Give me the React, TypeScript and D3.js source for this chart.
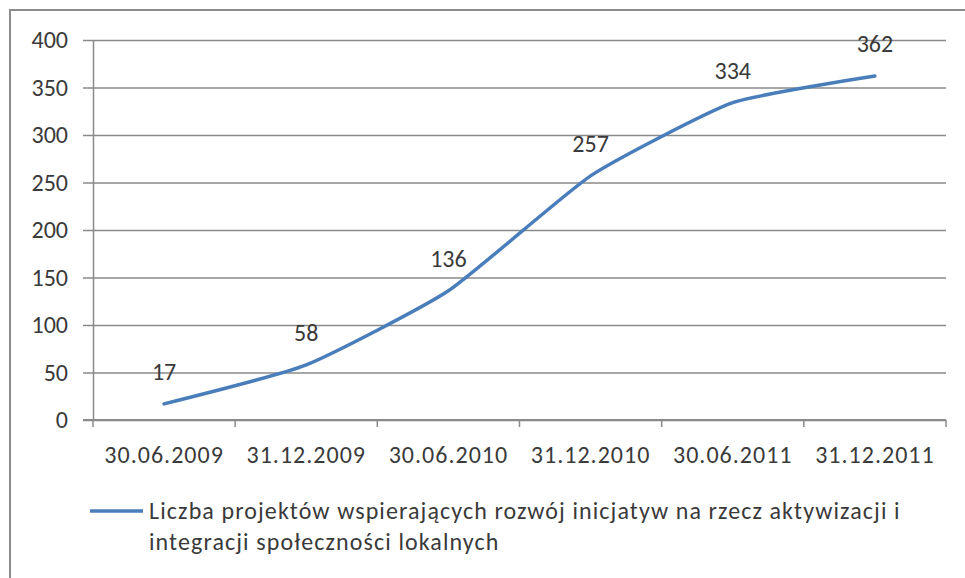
import React, { useEffect, useRef } from "react";
import * as d3 from "d3";

// data
const categories: string[] = [
  "30.06.2009",
  "31.12.2009",
  "30.06.2010",
  "31.12.2010",
  "30.06.2011",
  "31.12.2011",
];
const projectCounts: number[] = [17, 58, 136, 257, 334, 362];
const yTicks: number[] = [0, 50, 100, 150, 200, 250, 300, 350, 400];
const legendLines: string[] = [
  "Liczba projektów wspierających rozwój inicjatyw na rzecz aktywizacji i",
  "integracji społeczności lokalnych",
];

const WIDTH = 965;
const HEIGHT = 578;
const FONT = "Carlito, Calibri, Lato, 'Open Sans', sans-serif";
const FONT_SIZE = 24;
const TEXT = "#3a3a3a";
const GRID = "#8a8a8a";
const LINE = "#4a7ebb";

export default function App() {
  const ref = useRef<SVGSVGElement | null>(null);

  useEffect(() => {
    const svg = d3.select(ref.current);
    svg.selectAll("*").remove();

    const margin = { top: 40, right: 19, bottom: 158, left: 93 };

    // ==========================
    // Scales
    // ==========================
    const x = d3
      .scaleBand<string>()
      .domain(categories)
      .range([margin.left, WIDTH - margin.right])
      .padding(0);

    const y = d3
      .scaleLinear()
      .domain([0, 400])
      .range([HEIGHT - margin.bottom, margin.top]);

    // frame around the chart (cut at right/bottom in the reference)
    svg
      .append("rect")
      .attr("x", 10)
      .attr("y", 10)
      .attr("width", WIDTH + 20)
      .attr("height", HEIGHT + 20)
      .attr("fill", "#fff")
      .attr("stroke", "#8c8c8c")
      .attr("stroke-width", 2);

    // ==========================
    // Y axis + gridlines
    // ==========================
    const yAxis = svg
      .append("g")
      .attr("transform", `translate(${margin.left},0)`)
      .call(
        d3
          .axisLeft(y)
          .tickValues(yTicks)
          .tickSize(-(WIDTH - margin.right - margin.left))
          .tickSizeOuter(0)
          .tickPadding(25)
      );
    yAxis.select(".domain").attr("stroke", GRID).attr("stroke-width", 1.5);
    yAxis
      .selectAll(".tick line")
      .attr("x1", -10)
      .attr("stroke", GRID)
      .attr("stroke-width", 1.5);
    yAxis
      .selectAll(".tick text")
      .attr("fill", TEXT)
      .attr("font-family", FONT)
      .attr("font-size", FONT_SIZE);

    // ==========================
    // X axis
    // ==========================
    const xAxisG = svg
      .append("g")
      .attr("transform", `translate(0,${y(0)})`);
    xAxisG
      .append("line")
      .attr("x1", margin.left - 10)
      .attr("x2", WIDTH - margin.right)
      .attr("stroke", GRID)
      .attr("stroke-width", 2);
    const boundaries = categories.map((c) => (x(c) as number) + x.bandwidth());
    xAxisG
      .selectAll(".xtick")
      .data([margin.left, ...boundaries])
      .enter()
      .append("line")
      .attr("x1", (d) => d)
      .attr("x2", (d) => d)
      .attr("y1", 0)
      .attr("y2", 7)
      .attr("stroke", GRID)
      .attr("stroke-width", 1.5);
    xAxisG
      .selectAll(".xlabel")
      .data(categories)
      .enter()
      .append("text")
      .attr("x", (d) => (x(d) as number) + x.bandwidth() / 2)
      .attr("y", 43)
      .attr("text-anchor", "middle")
      .attr("fill", TEXT)
      .attr("font-family", FONT)
      .attr("font-size", FONT_SIZE)
      .attr("letter-spacing", 1)
      .text((d) => d);

    // ==========================
    // Line
    // ==========================
    const points = categories.map((c, i) => ({
      cx: (x(c) as number) + x.bandwidth() / 2,
      v: projectCounts[i],
    }));

    const line = d3
      .line<{ cx: number; v: number }>()
      .x((d) => d.cx)
      .y((d) => y(d.v))
      .curve(d3.curveCardinal.tension(0.5));

    svg
      .append("path")
      .datum(points)
      .attr("d", line)
      .attr("fill", "none")
      .attr("stroke", LINE)
      .attr("stroke-width", 3.5)
      .attr("stroke-linecap", "round");

    // data labels
    svg
      .selectAll(".label")
      .data(points)
      .enter()
      .append("text")
      .attr("x", (d) => d.cx)
      .attr("y", (d) => y(d.v) - 24)
      .attr("text-anchor", "middle")
      .attr("fill", TEXT)
      .attr("font-family", FONT)
      .attr("font-size", FONT_SIZE)
      .text((d) => d.v);

    // ==========================
    // Legend
    // ==========================
    const legend = svg.append("g").attr("transform", "translate(90,511)");
    legend
      .append("line")
      .attr("x1", 0)
      .attr("x2", 53)
      .attr("stroke", LINE)
      .attr("stroke-width", 3.5);
    legend
      .selectAll("text")
      .data(legendLines)
      .enter()
      .append("text")
      .attr("x", 59)
      .attr("y", (d, i) => 8 + i * 31)
      .attr("fill", TEXT)
      .attr("font-family", FONT)
      .attr("font-size", FONT_SIZE)
      .attr("letter-spacing", 1.1)
      .text((d) => d);
  }, []);

  return (
    <svg
      ref={ref}
      width={WIDTH}
      height={HEIGHT}
      style={{ position: "absolute", left: 0, top: 0, background: "#fff" }}
    />
  );
}
